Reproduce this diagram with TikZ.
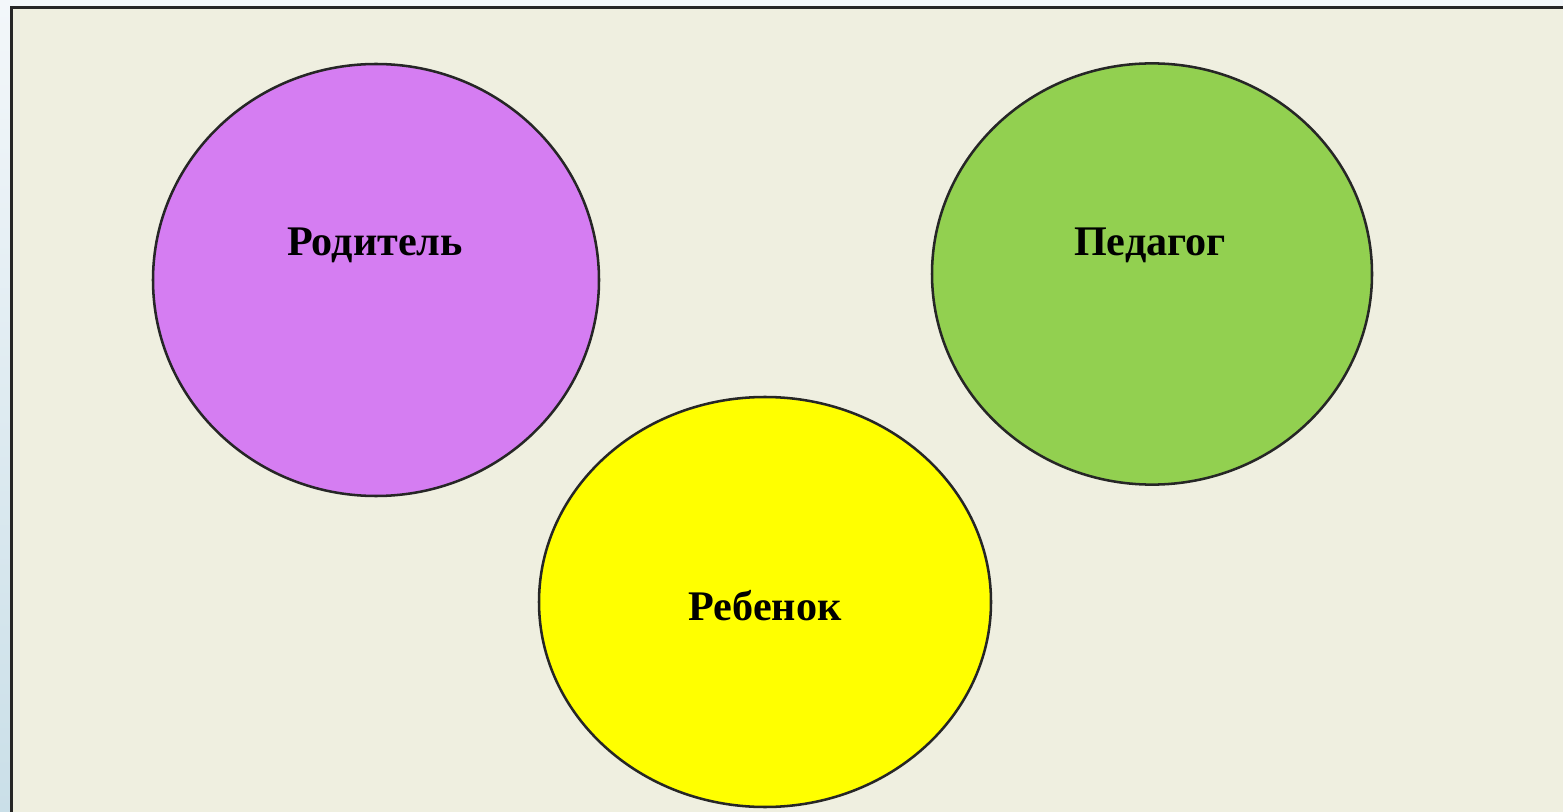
\documentclass[tikz,border=0pt]{standalone}
\usepackage{fontspec}
\setmainfont{Liberation Serif}
\usepackage{tikz}
\usetikzlibrary{shapes.geometric,positioning}

\definecolor{pageBg}{RGB}{239,239,224}
\definecolor{outerTop}{RGB}{243,247,250}
\definecolor{outerBot}{RGB}{202,223,232}
\definecolor{parentFill}{RGB}{213,125,242}
\definecolor{teacherFill}{RGB}{146,208,80}
\definecolor{childFill}{RGB}{255,255,0}
\definecolor{lineDark}{RGB}{38,38,38}

\tikzset{
    role/.style={ellipse, draw=lineDark, line width=1.8pt, inner sep=0pt},
    roleText/.style={font=\fontsize{30}{36}\selectfont\bfseries, text=black}
}

\begin{document}
\begin{tikzpicture}
        \useasboundingbox (0,0) rectangle (39.075,-20.3);
        \clip (0,0) rectangle (39.075,-20.3);

        % outer background and frame
        \shade[top color=outerTop, bottom color=outerBot] (0,0) rectangle (39.075,-20.3);
        \draw[fill=pageBg, draw=lineDark, line width=2.1pt] (0.29,-0.18) rectangle (39.8,-21);

        % circles
        \node[role, fill=parentFill, minimum width=11.15cm, minimum height=10.8cm] (parent) at (9.4,-7.0) {};
        \node[role, fill=teacherFill, minimum width=11.0cm, minimum height=10.53cm] (teacher) at (28.8,-6.85) {};
        \node[role, fill=childFill, minimum width=11.3cm, minimum height=10.25cm] (child) at (19.125,-15.05) {};

        % labels
        \node[roleText] (parentText) at (9.375,-6.13) {Родитель};
        \node[roleText] (teacherText) at (28.75,-6.13) {Педагог};
        \node[roleText] (childText) at (19.125,-15.15) {Ребенок};

    \end{tikzpicture}
\end{document}
